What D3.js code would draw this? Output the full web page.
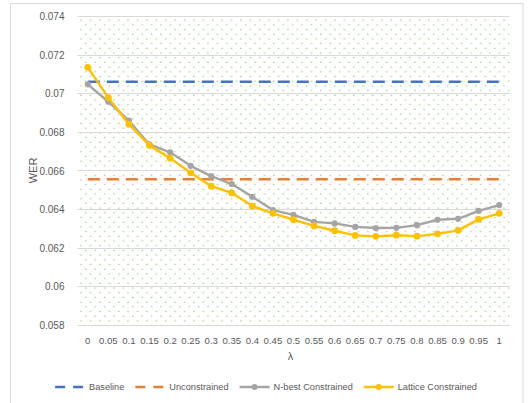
<!DOCTYPE html>
<html>
<head>
<meta charset="utf-8">
<script src="https://d3js.org/d3.v7.min.js"></script>
<style>
  body { margin: 0; background: #fff; }
  text { font-family: "Liberation Sans", Arial, sans-serif; fill: #595959; }
</style>
</head>
<body>
<svg id="chart" width="528" height="403"></svg>
<script>
// data
const lambdas = ["0","0.05","0.1","0.15","0.2","0.25","0.3","0.35","0.4","0.45","0.5",
                 "0.55","0.6","0.65","0.7","0.75","0.8","0.85","0.9","0.95","1"];
const baseline = 0.0706;
const unconstrained = 0.06555;
const nbest = [0.07046,0.06956,0.06858,0.06735,0.06694,0.06624,0.06571,0.0653,0.06464,0.06395,0.0637,
               0.06334,0.06326,0.06308,0.06302,0.06303,0.06317,0.06345,0.0635,0.06391,0.06421];
const lattice = [0.07134,0.06977,0.0684,0.0673,0.06664,0.06588,0.06519,0.06484,0.06416,0.06378,0.06345,
                 0.06313,0.06288,0.06264,0.06259,0.06265,0.0626,0.06272,0.0629,0.06347,0.06378];
const yTicks = [0.058,0.06,0.062,0.064,0.066,0.068,0.07,0.072,0.074];

const svg = d3.select("#chart");
const plotLeft = 77.5, plotRight = 509.5, plotTop = 16, plotBottom = 325;

// outer chart frame
svg.append("rect").attr("x", 10.5).attr("y", 3.5).attr("width", 512.5).attr("height", 410)
  .attr("fill", "#fff").attr("stroke", "#d9d9d9").attr("stroke-width", 1);

const x = d3.scaleBand().domain(lambdas).range([plotLeft, plotRight]).padding(0);
const y = d3.scaleLinear().domain([0.058, 0.074]).range([plotBottom, plotTop]);
const cx = d => x(d) + x.bandwidth() / 2;

// dotted plot area fill
const defs = svg.append("defs");
const pat = defs.append("pattern").attr("id", "dots").attr("patternUnits", "userSpaceOnUse")
  .attr("x", plotLeft).attr("y", plotTop).attr("width", 9.4).attr("height", 9.4);
pat.append("rect").attr("x", 3).attr("y", 3.5).attr("width", 1.25).attr("height", 1.25).attr("fill", "#8fc770");
pat.append("rect").attr("x", 7.7).attr("y", 8.2).attr("width", 1.25).attr("height", 1.25).attr("fill", "#8fc770");
svg.append("rect").attr("x", plotLeft).attr("y", plotTop).attr("width", plotRight - plotLeft)
  .attr("height", plotBottom - plotTop).attr("fill", "url(#dots)");

// gridlines
svg.append("g").selectAll("line").data(yTicks).join("line")
  .attr("x1", plotLeft).attr("x2", plotRight)
  .attr("y1", d => Math.round(y(d)) + 0.5).attr("y2", d => Math.round(y(d)) + 0.5)
  .attr("stroke", "#d9d9d9").attr("stroke-width", 1);

// y tick labels
const yAxis = svg.append("g").attr("transform", `translate(${plotLeft - 10},0)`)
  .call(d3.axisLeft(y).tickValues(yTicks).tickSize(0).tickFormat(d => String(+d.toFixed(3))));
yAxis.select(".domain").remove();
yAxis.selectAll("text").attr("font-size", 10).attr("dy", "0.35em")
  .style("font-family", "Liberation Sans, Arial, sans-serif").attr("fill", "#595959");

// x tick labels
const xAxis = svg.append("g").attr("transform", `translate(0,${plotBottom + 9})`)
  .call(d3.axisBottom(x).tickSize(0));
xAxis.select(".domain").remove();
xAxis.selectAll("text").attr("font-size", 9.6).attr("dy", "0.71em")
  .style("font-family", "Liberation Sans, Arial, sans-serif").attr("fill", "#595959");

// axis titles
svg.append("text").attr("x", (plotLeft + plotRight) / 2 - 3).attr("y", 360).attr("text-anchor", "middle")
  .attr("font-size", 11).text("λ");
svg.append("text").attr("transform", `translate(37,${(plotTop + plotBottom) / 2}) rotate(-90)`)
  .attr("text-anchor", "middle").attr("font-size", 11).text("WER");

// reference lines
const x0 = cx(lambdas[0]), x1 = cx(lambdas[lambdas.length - 1]);
svg.append("line").attr("x1", x0).attr("x2", x1).attr("y1", y(baseline)).attr("y2", y(baseline))
  .attr("stroke", "#4472c4").attr("stroke-width", 2.5).attr("stroke-dasharray", "12,7");
svg.append("line").attr("x1", x0).attr("x2", x1).attr("y1", y(unconstrained)).attr("y2", y(unconstrained))
  .attr("stroke", "#ed7d31").attr("stroke-width", 2.5).attr("stroke-dasharray", "12,7");

// series
const line = d3.line().x((d, i) => cx(lambdas[i])).y(d => y(d));
function drawSeries(values, color, r) {
  svg.append("path").datum(values).attr("d", line).attr("fill", "none")
    .attr("stroke", color).attr("stroke-width", 2.4).attr("stroke-linejoin", "round");
  svg.append("g").selectAll("circle").data(values).join("circle")
    .attr("cx", (d, i) => cx(lambdas[i])).attr("cy", d => y(d)).attr("r", r).attr("fill", color);
}
drawSeries(nbest, "#a5a5a5", 3.1);
drawSeries(lattice, "#ffc000", 3.4);

// legend
const legendItems = [
  {name: "Baseline", color: "#4472c4", dash: "10,8", marker: false},
  {name: "Unconstrained", color: "#ed7d31", dash: "10,8", marker: false},
  {name: "N-best Constrained", color: "#a5a5a5", dash: null, marker: true},
  {name: "Lattice Constrained", color: "#ffc000", dash: null, marker: true}
];
const legend = svg.append("g");
const ly = 387;
let lx = 0;
legendItems.forEach(item => {
  const g = legend.append("g").attr("transform", `translate(${lx},0)`);
  g.append("line").attr("x1", 0).attr("x2", 30).attr("y1", ly).attr("y2", ly)
    .attr("stroke", item.color).attr("stroke-width", 2.5).attr("stroke-dasharray", item.dash);
  if (item.marker) g.append("circle").attr("cx", 15).attr("cy", ly).attr("r", 3).attr("fill", item.color);
  const t = g.append("text").attr("x", 34).attr("y", ly).attr("dy", "0.35em").attr("font-size", 9.2).text(item.name);
  lx += 34 + t.node().getComputedTextLength() + 11;
});
lx -= 11;
legend.attr("transform", `translate(${266 - lx / 2},0)`);
</script>
</body>
</html>
